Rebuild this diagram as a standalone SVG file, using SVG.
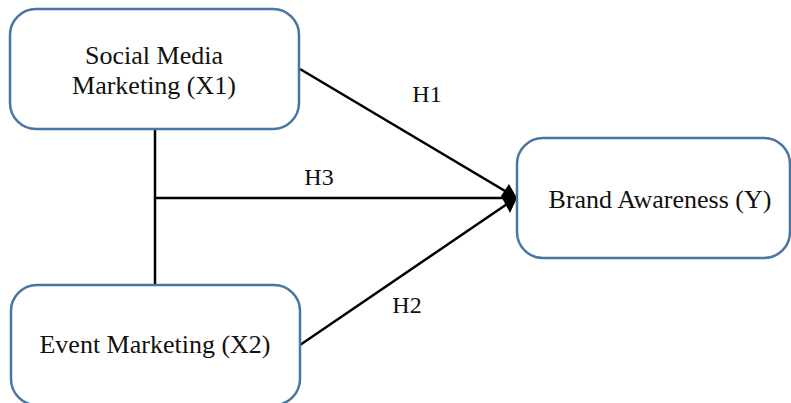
<svg xmlns="http://www.w3.org/2000/svg" width="791" height="403" viewBox="0 0 791 403">
  <style>
    .box { fill: #ffffff; stroke: #4a76a4; stroke-width: 2.5; }
    .label { font-family: "Liberation Serif", "Times New Roman", serif; font-size: 26px; fill: #111111; text-anchor: middle; }
    .hyp { font-family: "Liberation Serif", "Times New Roman", serif; font-size: 24px; fill: #111111; text-anchor: middle; }
    .edge { stroke: #000000; stroke-width: 2.5; fill: none; }
  </style>
  <rect width="791" height="403" fill="#ffffff"/>

  <g id="connectors">
    <!-- X1 / X2 joint link feeding H3 -->
    <line class="edge" x1="155" y1="129" x2="155" y2="285"/>
    <line class="edge" x1="155" y1="198" x2="508" y2="198"/>
    <!-- H1 -->
    <line class="edge" x1="300" y1="69" x2="510" y2="194"/>
    <!-- H2 -->
    <line class="edge" x1="300" y1="345" x2="510" y2="202"/>
    <!-- shared arrowhead -->
    <polygon points="517,198 509,184 501,196 510,213" fill="#000000"/>
    <text class="hyp" x="427" y="102">H1</text>
    <text class="hyp" x="319" y="185">H3</text>
    <text class="hyp" x="407" y="313">H2</text>
  </g>

  <g id="node-x1">
    <rect class="box" x="10" y="9" width="289" height="120" rx="26" ry="26"/>
    <text class="label" x="154" y="64">Social Media</text>
    <text class="label" x="154" y="94">Marketing (X1)</text>
  </g>

  <g id="node-x2">
    <rect class="box" x="11" y="285" width="289" height="120" rx="26" ry="26"/>
    <text class="label" x="155" y="353">Event Marketing (X2)</text>
  </g>

  <g id="node-y">
    <rect class="box" x="517" y="138" width="273" height="120" rx="26" ry="26"/>
    <text class="label" x="660" y="208">Brand Awareness (Y)</text>
  </g>
</svg>
